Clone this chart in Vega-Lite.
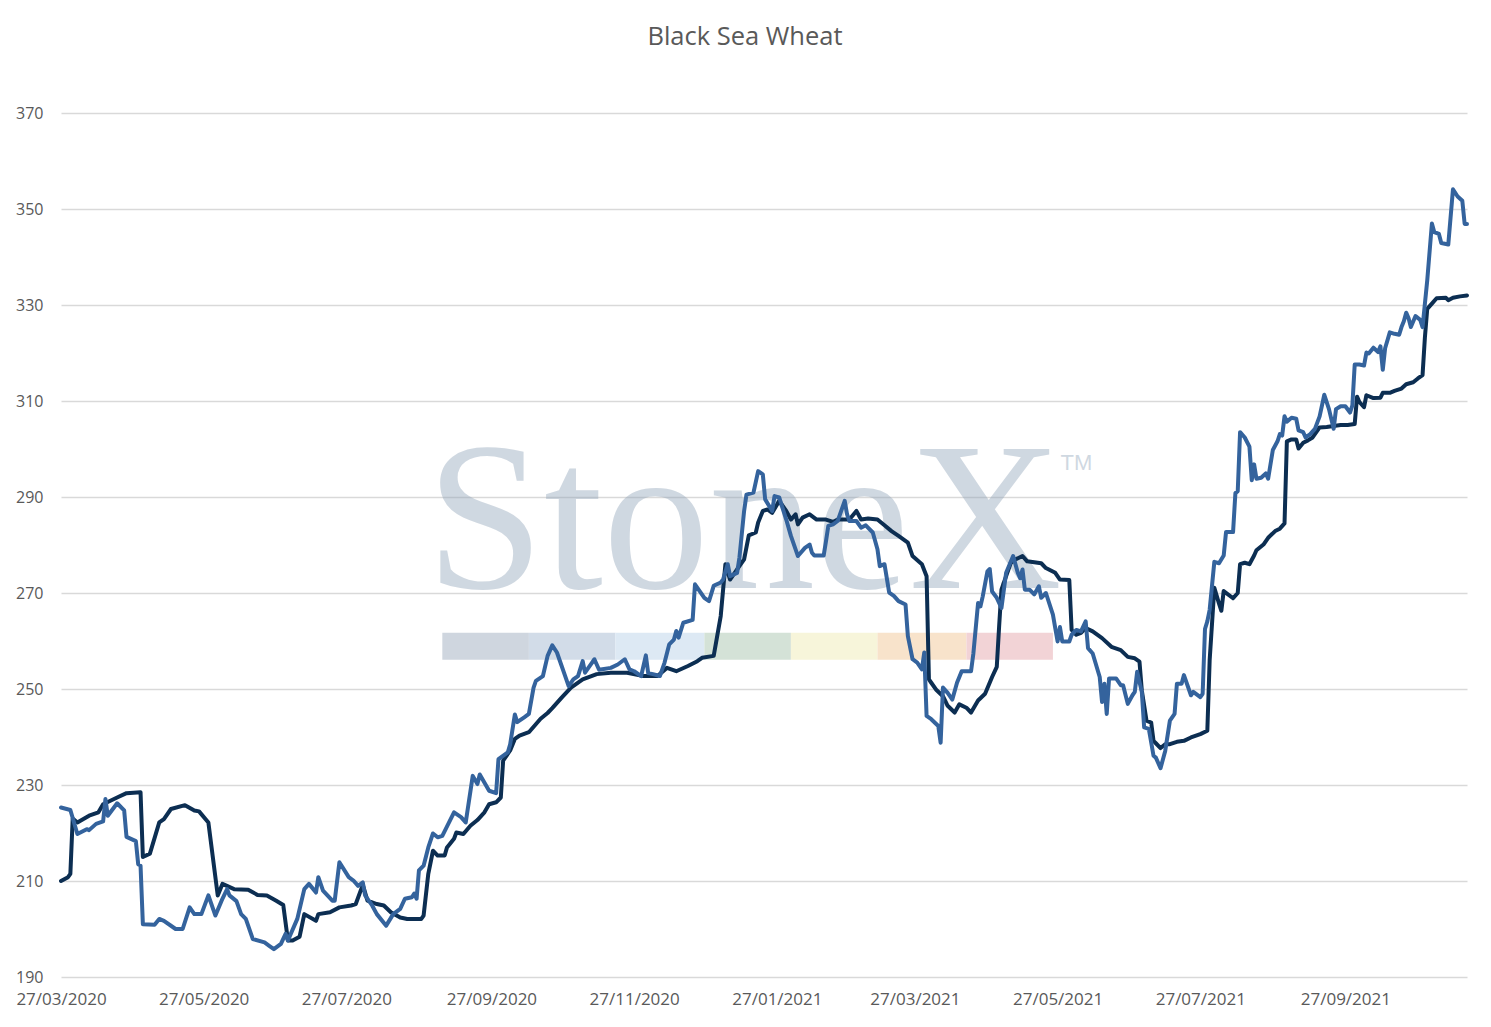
{
  "$schema": "https://vega.github.io/schema/vega-lite/v6.json",
  "autosize": {"type": "none"},
  "width": 1406,
  "height": 864,
  "padding": {"left": 61, "top": 113, "right": 24, "bottom": 50},
  "background": "#ffffff",
  "title": {
    "text": "Black Sea Wheat",
    "font": "Open Sans",
    "fontSize": 25.5,
    "fontWeight": "normal",
    "color": "#595959",
    "anchor": "middle",
    "dx": -19,
    "offset": 55
  },
  "datasets": {
    "dark": [
      {"date": "2020-03-27", "price": 210}, {"date": "2020-03-30", "price": 210.8}, {"date": "2020-03-31", "price": 211.5},
      {"date": "2020-04-01", "price": 223}, {"date": "2020-04-03", "price": 222.2}, {"date": "2020-04-08", "price": 223.6},
      {"date": "2020-04-12", "price": 224.3}, {"date": "2020-04-14", "price": 226}, {"date": "2020-04-20", "price": 227.4},
      {"date": "2020-04-24", "price": 228.3}, {"date": "2020-04-30", "price": 228.5}, {"date": "2020-05-01", "price": 215},
      {"date": "2020-05-04", "price": 215.7}, {"date": "2020-05-08", "price": 222.2}, {"date": "2020-05-10", "price": 222.9},
      {"date": "2020-05-13", "price": 225}, {"date": "2020-05-19", "price": 225.8}, {"date": "2020-05-23", "price": 224.7},
      {"date": "2020-05-25", "price": 224.5}, {"date": "2020-05-29", "price": 222.2}, {"date": "2020-06-02", "price": 207},
      {"date": "2020-06-04", "price": 209.4}, {"date": "2020-06-09", "price": 208.3}, {"date": "2020-06-15", "price": 208.2},
      {"date": "2020-06-19", "price": 207.1}, {"date": "2020-06-23", "price": 207}, {"date": "2020-06-27", "price": 205.9},
      {"date": "2020-06-30", "price": 205}, {"date": "2020-07-02", "price": 197.6}, {"date": "2020-07-04", "price": 197.6},
      {"date": "2020-07-07", "price": 198.4}, {"date": "2020-07-09", "price": 203.1}, {"date": "2020-07-14", "price": 201.7},
      {"date": "2020-07-15", "price": 203.1}, {"date": "2020-07-20", "price": 203.5}, {"date": "2020-07-24", "price": 204.5},
      {"date": "2020-07-29", "price": 204.9}, {"date": "2020-07-31", "price": 205.2}, {"date": "2020-08-03", "price": 209.2},
      {"date": "2020-08-05", "price": 205.9}, {"date": "2020-08-09", "price": 205.2}, {"date": "2020-08-12", "price": 204.9},
      {"date": "2020-08-15", "price": 203.5}, {"date": "2020-08-19", "price": 202.4}, {"date": "2020-08-22", "price": 202.1},
      {"date": "2020-08-28", "price": 202.1}, {"date": "2020-08-29", "price": 202.8}, {"date": "2020-08-31", "price": 211.5},
      {"date": "2020-09-02", "price": 216.3}, {"date": "2020-09-04", "price": 215.3}, {"date": "2020-09-07", "price": 215.3},
      {"date": "2020-09-08", "price": 217}, {"date": "2020-09-11", "price": 218.8}, {"date": "2020-09-12", "price": 220.1},
      {"date": "2020-09-15", "price": 219.8}, {"date": "2020-09-18", "price": 221.5}, {"date": "2020-09-21", "price": 222.7},
      {"date": "2020-09-24", "price": 224.3}, {"date": "2020-09-26", "price": 226}, {"date": "2020-09-29", "price": 226.4},
      {"date": "2020-10-01", "price": 227.4}, {"date": "2020-10-02", "price": 235.1}, {"date": "2020-10-05", "price": 237.2},
      {"date": "2020-10-07", "price": 239.6}, {"date": "2020-10-09", "price": 240.3}, {"date": "2020-10-13", "price": 241},
      {"date": "2020-10-18", "price": 243.8}, {"date": "2020-10-21", "price": 245}, {"date": "2020-10-23", "price": 246},
      {"date": "2020-10-27", "price": 248.2}, {"date": "2020-10-31", "price": 250.3}, {"date": "2020-11-05", "price": 252},
      {"date": "2020-11-11", "price": 253.1}, {"date": "2020-11-17", "price": 253.4}, {"date": "2020-11-24", "price": 253.4},
      {"date": "2020-12-01", "price": 252.7}, {"date": "2020-12-07", "price": 252.7}, {"date": "2020-12-11", "price": 254.4},
      {"date": "2020-12-15", "price": 253.7}, {"date": "2020-12-20", "price": 254.8}, {"date": "2020-12-24", "price": 255.8},
      {"date": "2020-12-26", "price": 256.5}, {"date": "2020-12-31", "price": 256.9}, {"date": "2021-01-03", "price": 265.2},
      {"date": "2021-01-05", "price": 276}, {"date": "2021-01-07", "price": 272.8}, {"date": "2021-01-10", "price": 274.9},
      {"date": "2021-01-13", "price": 277}, {"date": "2021-01-15", "price": 282}, {"date": "2021-01-18", "price": 282.6},
      {"date": "2021-01-19", "price": 284.7}, {"date": "2021-01-21", "price": 287.1}, {"date": "2021-01-23", "price": 287.4},
      {"date": "2021-01-25", "price": 286.7}, {"date": "2021-01-28", "price": 289.2}, {"date": "2021-01-31", "price": 287.1},
      {"date": "2021-02-02", "price": 285.3}, {"date": "2021-02-04", "price": 286.4}, {"date": "2021-02-05", "price": 284.3},
      {"date": "2021-02-07", "price": 285.7}, {"date": "2021-02-10", "price": 286.4}, {"date": "2021-02-13", "price": 285.3},
      {"date": "2021-02-17", "price": 285.3}, {"date": "2021-02-20", "price": 284.8}, {"date": "2021-02-22", "price": 285.3},
      {"date": "2021-02-27", "price": 285.3}, {"date": "2021-03-02", "price": 287.1}, {"date": "2021-03-04", "price": 285.3},
      {"date": "2021-03-07", "price": 285.5}, {"date": "2021-03-11", "price": 285.3}, {"date": "2021-03-14", "price": 284.1},
      {"date": "2021-03-17", "price": 282.9}, {"date": "2021-03-20", "price": 281.9}, {"date": "2021-03-24", "price": 280.5},
      {"date": "2021-03-26", "price": 277.7}, {"date": "2021-03-30", "price": 276}, {"date": "2021-04-01", "price": 273.5},
      {"date": "2021-04-02", "price": 252}, {"date": "2021-04-03", "price": 251.3}, {"date": "2021-04-05", "price": 249.9},
      {"date": "2021-04-08", "price": 248.5}, {"date": "2021-04-10", "price": 246.5}, {"date": "2021-04-13", "price": 245.1},
      {"date": "2021-04-15", "price": 246.8}, {"date": "2021-04-18", "price": 246.1}, {"date": "2021-04-20", "price": 245.1},
      {"date": "2021-04-23", "price": 247.6}, {"date": "2021-04-26", "price": 249}, {"date": "2021-04-29", "price": 252.5},
      {"date": "2021-05-01", "price": 254.6}, {"date": "2021-05-02", "price": 263}, {"date": "2021-05-03", "price": 270.7},
      {"date": "2021-05-05", "price": 273.5}, {"date": "2021-05-07", "price": 276.3}, {"date": "2021-05-09", "price": 277},
      {"date": "2021-05-12", "price": 277.7}, {"date": "2021-05-14", "price": 276.6}, {"date": "2021-05-17", "price": 276.4},
      {"date": "2021-05-20", "price": 276.2}, {"date": "2021-05-22", "price": 275.2}, {"date": "2021-05-26", "price": 274.2},
      {"date": "2021-05-28", "price": 272.8}, {"date": "2021-06-01", "price": 272.7}, {"date": "2021-06-02", "price": 262.3},
      {"date": "2021-06-04", "price": 261.3}, {"date": "2021-06-06", "price": 261.7}, {"date": "2021-06-08", "price": 262.7},
      {"date": "2021-06-11", "price": 262}, {"date": "2021-06-15", "price": 260.6}, {"date": "2021-06-19", "price": 258.8},
      {"date": "2021-06-23", "price": 258.1}, {"date": "2021-06-26", "price": 256.7}, {"date": "2021-06-29", "price": 256.4},
      {"date": "2021-07-01", "price": 255.7}, {"date": "2021-07-02", "price": 249.7}, {"date": "2021-07-04", "price": 243.4},
      {"date": "2021-07-06", "price": 243}, {"date": "2021-07-07", "price": 239.2}, {"date": "2021-07-08", "price": 238.7},
      {"date": "2021-07-10", "price": 237.7}, {"date": "2021-07-12", "price": 238.5}, {"date": "2021-07-14", "price": 238.5},
      {"date": "2021-07-17", "price": 239}, {"date": "2021-07-20", "price": 239.2}, {"date": "2021-07-23", "price": 239.9},
      {"date": "2021-07-27", "price": 240.6}, {"date": "2021-07-30", "price": 241.3}, {"date": "2021-07-31", "price": 256},
      {"date": "2021-08-02", "price": 271.1}, {"date": "2021-08-04", "price": 267.8}, {"date": "2021-08-05", "price": 266.3},
      {"date": "2021-08-06", "price": 270.4}, {"date": "2021-08-10", "price": 268.9}, {"date": "2021-08-12", "price": 270},
      {"date": "2021-08-13", "price": 276}, {"date": "2021-08-15", "price": 276.3}, {"date": "2021-08-17", "price": 276},
      {"date": "2021-08-19", "price": 277.8}, {"date": "2021-08-20", "price": 278.9}, {"date": "2021-08-23", "price": 280.1},
      {"date": "2021-08-25", "price": 281.5}, {"date": "2021-08-28", "price": 282.9}, {"date": "2021-08-30", "price": 283.4},
      {"date": "2021-09-01", "price": 284.5}, {"date": "2021-09-02", "price": 301.6}, {"date": "2021-09-04", "price": 302},
      {"date": "2021-09-06", "price": 302}, {"date": "2021-09-07", "price": 300.1}, {"date": "2021-09-09", "price": 301.3},
      {"date": "2021-09-11", "price": 301.8}, {"date": "2021-09-13", "price": 302.4}, {"date": "2021-09-16", "price": 304.5},
      {"date": "2021-09-19", "price": 304.6}, {"date": "2021-09-22", "price": 304.8}, {"date": "2021-09-25", "price": 305},
      {"date": "2021-09-28", "price": 305}, {"date": "2021-10-01", "price": 305.2}, {"date": "2021-10-02", "price": 310.9},
      {"date": "2021-10-03", "price": 309.8}, {"date": "2021-10-05", "price": 308.7}, {"date": "2021-10-06", "price": 311.2},
      {"date": "2021-10-09", "price": 310.6}, {"date": "2021-10-12", "price": 310.7}, {"date": "2021-10-13", "price": 311.7},
      {"date": "2021-10-16", "price": 311.7}, {"date": "2021-10-18", "price": 312.1}, {"date": "2021-10-21", "price": 312.6},
      {"date": "2021-10-23", "price": 313.5}, {"date": "2021-10-26", "price": 313.9}, {"date": "2021-10-28", "price": 314.7},
      {"date": "2021-10-30", "price": 315.4}, {"date": "2021-10-31", "price": 323.2}, {"date": "2021-11-01", "price": 329.2},
      {"date": "2021-11-03", "price": 330.3}, {"date": "2021-11-05", "price": 331.4}, {"date": "2021-11-09", "price": 331.5},
      {"date": "2021-11-10", "price": 331}, {"date": "2021-11-12", "price": 331.5}, {"date": "2021-11-15", "price": 331.8},
      {"date": "2021-11-18", "price": 332}
    ],
    "blue": [
      {"date": "2020-03-27", "price": 225.3}, {"date": "2020-03-31", "price": 224.8}, {"date": "2020-04-03", "price": 219.8},
      {"date": "2020-04-07", "price": 220.8}, {"date": "2020-04-08", "price": 220.6}, {"date": "2020-04-11", "price": 221.9},
      {"date": "2020-04-14", "price": 222.4}, {"date": "2020-04-15", "price": 227.1}, {"date": "2020-04-16", "price": 223.6},
      {"date": "2020-04-20", "price": 226.2}, {"date": "2020-04-23", "price": 224.7}, {"date": "2020-04-24", "price": 219.2},
      {"date": "2020-04-28", "price": 218.3}, {"date": "2020-04-29", "price": 213.5}, {"date": "2020-04-30", "price": 213.2},
      {"date": "2020-05-01", "price": 201}, {"date": "2020-05-06", "price": 200.9}, {"date": "2020-05-08", "price": 202.1},
      {"date": "2020-05-10", "price": 201.7}, {"date": "2020-05-15", "price": 200}, {"date": "2020-05-18", "price": 200},
      {"date": "2020-05-21", "price": 204.5}, {"date": "2020-05-23", "price": 203.1}, {"date": "2020-05-26", "price": 203.1},
      {"date": "2020-05-29", "price": 207}, {"date": "2020-06-01", "price": 202.8}, {"date": "2020-06-04", "price": 206.3},
      {"date": "2020-06-06", "price": 208.3}, {"date": "2020-06-07", "price": 207}, {"date": "2020-06-10", "price": 205.8},
      {"date": "2020-06-12", "price": 203.1}, {"date": "2020-06-14", "price": 202.1}, {"date": "2020-06-17", "price": 197.9},
      {"date": "2020-06-22", "price": 197.2}, {"date": "2020-06-24", "price": 196.5}, {"date": "2020-06-26", "price": 195.8},
      {"date": "2020-06-29", "price": 196.9}, {"date": "2020-07-01", "price": 199}, {"date": "2020-07-02", "price": 197.6},
      {"date": "2020-07-06", "price": 202.1}, {"date": "2020-07-09", "price": 208.3}, {"date": "2020-07-11", "price": 209.4},
      {"date": "2020-07-14", "price": 207.6}, {"date": "2020-07-15", "price": 210.8}, {"date": "2020-07-17", "price": 208},
      {"date": "2020-07-21", "price": 205.9}, {"date": "2020-07-22", "price": 205.9}, {"date": "2020-07-24", "price": 213.9},
      {"date": "2020-07-28", "price": 210.8}, {"date": "2020-07-30", "price": 210.1}, {"date": "2020-08-01", "price": 209},
      {"date": "2020-08-03", "price": 209.7}, {"date": "2020-08-04", "price": 207}, {"date": "2020-08-07", "price": 204.9},
      {"date": "2020-08-09", "price": 203.1}, {"date": "2020-08-13", "price": 200.7}, {"date": "2020-08-16", "price": 203.1},
      {"date": "2020-08-19", "price": 204.2}, {"date": "2020-08-21", "price": 206.3}, {"date": "2020-08-24", "price": 206.6},
      {"date": "2020-08-25", "price": 207.4}, {"date": "2020-08-26", "price": 206.3}, {"date": "2020-08-27", "price": 212.2},
      {"date": "2020-08-29", "price": 213.2}, {"date": "2020-08-31", "price": 217}, {"date": "2020-09-02", "price": 219.9},
      {"date": "2020-09-04", "price": 219.1}, {"date": "2020-09-06", "price": 219.4}, {"date": "2020-09-11", "price": 224.3},
      {"date": "2020-09-14", "price": 223.3}, {"date": "2020-09-16", "price": 222.2}, {"date": "2020-09-19", "price": 231.9},
      {"date": "2020-09-21", "price": 230.2}, {"date": "2020-09-22", "price": 232.2}, {"date": "2020-09-26", "price": 228.8},
      {"date": "2020-09-29", "price": 228.3}, {"date": "2020-09-30", "price": 235.4}, {"date": "2020-10-04", "price": 236.8},
      {"date": "2020-10-05", "price": 238.5}, {"date": "2020-10-07", "price": 244.7}, {"date": "2020-10-08", "price": 243.1},
      {"date": "2020-10-11", "price": 244.1}, {"date": "2020-10-13", "price": 244.8}, {"date": "2020-10-15", "price": 250.3},
      {"date": "2020-10-16", "price": 251.7}, {"date": "2020-10-19", "price": 252.7}, {"date": "2020-10-21", "price": 256.9},
      {"date": "2020-10-23", "price": 259.1}, {"date": "2020-10-25", "price": 257.6}, {"date": "2020-10-26", "price": 256.2},
      {"date": "2020-10-28", "price": 253.4}, {"date": "2020-10-30", "price": 250.6}, {"date": "2020-11-01", "price": 252},
      {"date": "2020-11-03", "price": 252.7}, {"date": "2020-11-05", "price": 255.8}, {"date": "2020-11-06", "price": 253.4},
      {"date": "2020-11-09", "price": 255.5}, {"date": "2020-11-10", "price": 256.2}, {"date": "2020-11-12", "price": 254},
      {"date": "2020-11-17", "price": 254.4}, {"date": "2020-11-20", "price": 255.1}, {"date": "2020-11-23", "price": 256.2},
      {"date": "2020-11-25", "price": 254.1}, {"date": "2020-11-27", "price": 253.7}, {"date": "2020-11-30", "price": 252.7},
      {"date": "2020-12-02", "price": 257}, {"date": "2020-12-03", "price": 253.3}, {"date": "2020-12-05", "price": 253.1},
      {"date": "2020-12-08", "price": 252.7}, {"date": "2020-12-10", "price": 255.5}, {"date": "2020-12-12", "price": 259.3},
      {"date": "2020-12-14", "price": 260.3}, {"date": "2020-12-15", "price": 262.1}, {"date": "2020-12-16", "price": 260.7},
      {"date": "2020-12-18", "price": 263.8}, {"date": "2020-12-22", "price": 264.4}, {"date": "2020-12-23", "price": 271.8},
      {"date": "2020-12-25", "price": 270.4}, {"date": "2020-12-27", "price": 269}, {"date": "2020-12-29", "price": 268.3},
      {"date": "2020-12-31", "price": 271.5}, {"date": "2021-01-03", "price": 272.2}, {"date": "2021-01-04", "price": 272.8},
      {"date": "2021-01-06", "price": 276}, {"date": "2021-01-07", "price": 273.5}, {"date": "2021-01-10", "price": 274.2},
      {"date": "2021-01-11", "price": 277.4}, {"date": "2021-01-13", "price": 287.1}, {"date": "2021-01-14", "price": 290.5},
      {"date": "2021-01-17", "price": 290.9}, {"date": "2021-01-19", "price": 295.4}, {"date": "2021-01-21", "price": 294.7},
      {"date": "2021-01-22", "price": 289.5}, {"date": "2021-01-25", "price": 287.1}, {"date": "2021-01-26", "price": 290.2},
      {"date": "2021-01-28", "price": 289.9}, {"date": "2021-01-31", "price": 285.3}, {"date": "2021-02-02", "price": 281.9},
      {"date": "2021-02-05", "price": 277.7}, {"date": "2021-02-08", "price": 279.4}, {"date": "2021-02-10", "price": 280.1},
      {"date": "2021-02-11", "price": 278.4}, {"date": "2021-02-12", "price": 277.8}, {"date": "2021-02-16", "price": 277.8},
      {"date": "2021-02-17", "price": 280.8}, {"date": "2021-02-18", "price": 284}, {"date": "2021-02-20", "price": 284.3},
      {"date": "2021-02-22", "price": 285}, {"date": "2021-02-25", "price": 289.2}, {"date": "2021-02-26", "price": 286.4},
      {"date": "2021-02-27", "price": 285}, {"date": "2021-03-02", "price": 285}, {"date": "2021-03-04", "price": 283.6},
      {"date": "2021-03-06", "price": 284.1}, {"date": "2021-03-09", "price": 282.6}, {"date": "2021-03-11", "price": 279.1},
      {"date": "2021-03-12", "price": 275.6}, {"date": "2021-03-14", "price": 276}, {"date": "2021-03-16", "price": 270.1},
      {"date": "2021-03-18", "price": 269.4}, {"date": "2021-03-20", "price": 268.3}, {"date": "2021-03-23", "price": 267.6},
      {"date": "2021-03-24", "price": 261}, {"date": "2021-03-26", "price": 256.2}, {"date": "2021-03-28", "price": 255.5},
      {"date": "2021-03-30", "price": 254.1}, {"date": "2021-03-31", "price": 257.6}, {"date": "2021-04-01", "price": 244.4},
      {"date": "2021-04-03", "price": 243.7}, {"date": "2021-04-06", "price": 242.3}, {"date": "2021-04-07", "price": 238.8},
      {"date": "2021-04-08", "price": 250.3}, {"date": "2021-04-10", "price": 249.2}, {"date": "2021-04-12", "price": 247.8},
      {"date": "2021-04-14", "price": 251.3}, {"date": "2021-04-16", "price": 253.7}, {"date": "2021-04-20", "price": 253.7},
      {"date": "2021-04-21", "price": 257.4}, {"date": "2021-04-23", "price": 267.9}, {"date": "2021-04-24", "price": 267.2},
      {"date": "2021-04-25", "price": 269.3}, {"date": "2021-04-27", "price": 274.5}, {"date": "2021-04-28", "price": 275},
      {"date": "2021-04-29", "price": 270.3}, {"date": "2021-05-01", "price": 269}, {"date": "2021-05-03", "price": 266.9},
      {"date": "2021-05-05", "price": 274.2}, {"date": "2021-05-08", "price": 277.7}, {"date": "2021-05-10", "price": 274.2},
      {"date": "2021-05-11", "price": 273.1}, {"date": "2021-05-12", "price": 274.9}, {"date": "2021-05-13", "price": 270.7},
      {"date": "2021-05-15", "price": 270.7}, {"date": "2021-05-17", "price": 269.7}, {"date": "2021-05-19", "price": 271.4},
      {"date": "2021-05-20", "price": 269}, {"date": "2021-05-22", "price": 270}, {"date": "2021-05-25", "price": 265.5},
      {"date": "2021-05-26", "price": 262.7}, {"date": "2021-05-27", "price": 259.9}, {"date": "2021-05-28", "price": 262.9},
      {"date": "2021-05-29", "price": 259.9}, {"date": "2021-06-01", "price": 259.9}, {"date": "2021-06-02", "price": 261.3},
      {"date": "2021-06-04", "price": 262.3}, {"date": "2021-06-06", "price": 262}, {"date": "2021-06-08", "price": 264.1},
      {"date": "2021-06-09", "price": 258.5}, {"date": "2021-06-11", "price": 257.4}, {"date": "2021-06-14", "price": 252.5},
      {"date": "2021-06-15", "price": 247.3}, {"date": "2021-06-16", "price": 251.1}, {"date": "2021-06-17", "price": 244.8},
      {"date": "2021-06-18", "price": 252.2}, {"date": "2021-06-21", "price": 252.2}, {"date": "2021-06-23", "price": 250.8},
      {"date": "2021-06-24", "price": 250.8}, {"date": "2021-06-26", "price": 246.9}, {"date": "2021-06-28", "price": 248.7},
      {"date": "2021-06-29", "price": 249.4}, {"date": "2021-06-30", "price": 253.6}, {"date": "2021-07-02", "price": 249.4},
      {"date": "2021-07-03", "price": 242}, {"date": "2021-07-05", "price": 241.7}, {"date": "2021-07-07", "price": 236.1},
      {"date": "2021-07-08", "price": 235.7}, {"date": "2021-07-10", "price": 233.5}, {"date": "2021-07-12", "price": 237.1},
      {"date": "2021-07-14", "price": 243.4}, {"date": "2021-07-16", "price": 244.8}, {"date": "2021-07-17", "price": 251.1},
      {"date": "2021-07-19", "price": 251.1}, {"date": "2021-07-20", "price": 252.9}, {"date": "2021-07-23", "price": 248.7},
      {"date": "2021-07-24", "price": 249.4}, {"date": "2021-07-27", "price": 248.3}, {"date": "2021-07-28", "price": 249},
      {"date": "2021-07-29", "price": 262.5}, {"date": "2021-07-30", "price": 264.1}, {"date": "2021-07-31", "price": 266.5},
      {"date": "2021-08-02", "price": 276.5}, {"date": "2021-08-04", "price": 276.2}, {"date": "2021-08-06", "price": 277.8},
      {"date": "2021-08-07", "price": 282.7}, {"date": "2021-08-10", "price": 282.7}, {"date": "2021-08-11", "price": 290.8},
      {"date": "2021-08-12", "price": 291.2}, {"date": "2021-08-13", "price": 303.5}, {"date": "2021-08-15", "price": 302.4},
      {"date": "2021-08-17", "price": 300.5}, {"date": "2021-08-18", "price": 293.5}, {"date": "2021-08-19", "price": 296.8},
      {"date": "2021-08-20", "price": 293.8}, {"date": "2021-08-22", "price": 294}, {"date": "2021-08-24", "price": 294.9},
      {"date": "2021-08-25", "price": 293.8}, {"date": "2021-08-27", "price": 299.8}, {"date": "2021-08-29", "price": 301.6},
      {"date": "2021-08-30", "price": 303.1}, {"date": "2021-08-31", "price": 302.8}, {"date": "2021-09-01", "price": 306.8},
      {"date": "2021-09-02", "price": 305.7}, {"date": "2021-09-04", "price": 306.5}, {"date": "2021-09-06", "price": 306.3},
      {"date": "2021-09-07", "price": 303.9}, {"date": "2021-09-09", "price": 303.5}, {"date": "2021-09-10", "price": 302.4},
      {"date": "2021-09-12", "price": 303.1}, {"date": "2021-09-14", "price": 304.2}, {"date": "2021-09-16", "price": 306.8},
      {"date": "2021-09-18", "price": 311.3}, {"date": "2021-09-20", "price": 308.3}, {"date": "2021-09-22", "price": 304.2},
      {"date": "2021-09-23", "price": 308.3}, {"date": "2021-09-25", "price": 308.9}, {"date": "2021-09-27", "price": 308.9},
      {"date": "2021-09-29", "price": 307.6}, {"date": "2021-09-30", "price": 309.1}, {"date": "2021-10-01", "price": 317.6},
      {"date": "2021-10-03", "price": 317.6}, {"date": "2021-10-05", "price": 317.4}, {"date": "2021-10-06", "price": 320.1},
      {"date": "2021-10-07", "price": 319.9}, {"date": "2021-10-09", "price": 321.1}, {"date": "2021-10-11", "price": 320.2},
      {"date": "2021-10-12", "price": 321.4}, {"date": "2021-10-13", "price": 316.5}, {"date": "2021-10-14", "price": 321},
      {"date": "2021-10-16", "price": 324.3}, {"date": "2021-10-18", "price": 324}, {"date": "2021-10-20", "price": 323.8},
      {"date": "2021-10-21", "price": 325.4}, {"date": "2021-10-22", "price": 326.6}, {"date": "2021-10-23", "price": 328.4},
      {"date": "2021-10-24", "price": 327.3}, {"date": "2021-10-25", "price": 325.4}, {"date": "2021-10-27", "price": 327.7},
      {"date": "2021-10-29", "price": 326.9}, {"date": "2021-10-30", "price": 325.4}, {"date": "2021-11-01", "price": 335.1},
      {"date": "2021-11-03", "price": 347}, {"date": "2021-11-04", "price": 345.2}, {"date": "2021-11-06", "price": 344.8},
      {"date": "2021-11-07", "price": 342.9}, {"date": "2021-11-10", "price": 342.6}, {"date": "2021-11-12", "price": 354.1},
      {"date": "2021-11-14", "price": 352.6}, {"date": "2021-11-16", "price": 351.7}, {"date": "2021-11-17", "price": 346.9},
      {"date": "2021-11-18", "price": 346.9}
    ],
    "bands": [
      {"band": "1", "date": "2020-09-06", "end": "2020-10-13", "price": 256.1, "top": 261.7},
      {"band": "2", "date": "2020-10-13", "end": "2020-11-19", "price": 256.1, "top": 261.7},
      {"band": "3", "date": "2020-11-19", "end": "2020-12-27", "price": 256.1, "top": 261.7},
      {"band": "4", "date": "2020-12-27", "end": "2021-02-02", "price": 256.1, "top": 261.7},
      {"band": "5", "date": "2021-02-02", "end": "2021-03-11", "price": 256.1, "top": 261.7},
      {"band": "6", "date": "2021-03-11", "end": "2021-04-18", "price": 256.1, "top": 261.7},
      {"band": "7", "date": "2021-04-18", "end": "2021-05-25", "price": 256.1, "top": 261.7}
    ]
  },
  "encoding": {
    "x": {
      "field": "date",
      "type": "temporal",
      "title": null,
      "scale": {
        "type": "utc",
        "domain": [
          {"year": 2020, "month": 3, "date": 27, "utc": true},
          {"year": 2021, "month": 11, "date": 18, "utc": true}
        ]
      },
      "axis": {
        "values": [
          {"year": 2020, "month": 3, "date": 27, "utc": true},
          {"year": 2020, "month": 5, "date": 27, "utc": true},
          {"year": 2020, "month": 7, "date": 27, "utc": true},
          {"year": 2020, "month": 9, "date": 27, "utc": true},
          {"year": 2020, "month": 11, "date": 27, "utc": true},
          {"year": 2021, "month": 1, "date": 27, "utc": true},
          {"year": 2021, "month": 3, "date": 27, "utc": true},
          {"year": 2021, "month": 5, "date": 27, "utc": true},
          {"year": 2021, "month": 7, "date": 27, "utc": true},
          {"year": 2021, "month": 9, "date": 27, "utc": true}
        ],
        "labelExpr": "utcFormat(datum.value, '%d/%m/%Y')",
        "labelFontSize": 17,
        "grid": false,
        "domain": false,
        "ticks": false,
        "labelFlush": false,
        "labelOverlap": false,
        "labelPadding": 14
      }
    },
    "y": {
      "field": "price",
      "type": "quantitative",
      "title": null,
      "scale": {"domain": [190, 370], "nice": false, "zero": false},
      "axis": {
        "values": [190, 210, 230, 250, 270, 290, 310, 330, 350, 370],
        "grid": true,
        "domain": false,
        "ticks": false,
        "labelPadding": 18
      }
    }
  },
  "layer": [
    {
      "data": {"name": "bands"},
      "mark": {"type": "rect"},
      "encoding": {
        "x2": {"field": "end"},
        "y2": {"field": "top"},
        "color": {
          "field": "band",
          "type": "nominal",
          "legend": null,
          "scale": {"range": ["#cfd6df", "#d2dce8", "#dde9f4", "#d4e2d7", "#f7f5da", "#f8e3cb", "#f2d3d6"]}
        }
      }
    },
    {
      "data": {"values": [{"date": "2021-01-13", "price": 271, "label": "StoneX"}]},
      "mark": {"type": "text", "font": "Liberation Serif", "fontSize": 212, "align": "center", "baseline": "alphabetic", "color": "#8fa3b8", "opacity": 0.42},
      "encoding": {"text": {"field": "label"}}
    },
    {
      "data": {"values": [{"date": "2021-06-04", "price": 295.6, "label": "TM"}]},
      "mark": {"type": "text", "font": "Liberation Sans", "fontSize": 22, "align": "center", "baseline": "alphabetic", "color": "#8fa3b8", "opacity": 0.42},
      "encoding": {"text": {"field": "label"}}
    },
    {
      "data": {"name": "dark"},
      "mark": {"type": "line", "color": "#0c2e52", "strokeWidth": 4, "strokeJoin": "round", "strokeCap": "round"}
    },
    {
      "data": {"name": "blue"},
      "mark": {"type": "line", "color": "#34639d", "strokeWidth": 4, "strokeJoin": "round", "strokeCap": "round"}
    }
  ],
  "config": {
    "view": {"stroke": null},
    "axis": {
      "labelFont": "Open Sans",
      "labelFontSize": 16,
      "labelColor": "#595959",
      "gridColor": "#d9d9d9",
      "gridWidth": 1.3
    }
  }
}
